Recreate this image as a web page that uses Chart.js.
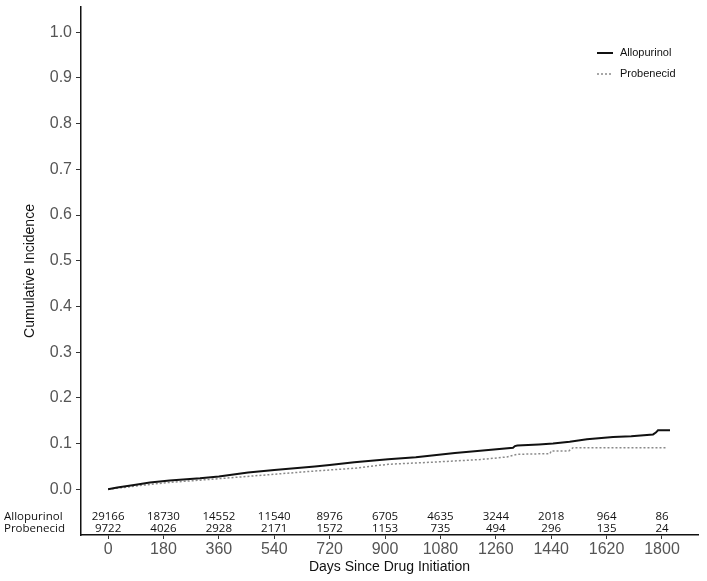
<!DOCTYPE html>
<html>
<head>
<meta charset="utf-8">
<script src="https://cdn.jsdelivr.net/npm/chart.js@4.4.1/dist/chart.umd.min.js"></script>
<style>
  html, body { margin: 0; padding: 0; background: #fff; }
  #wrap { width: 707px; height: 581px; }
</style>
</head>
<body>
<div id="wrap"><canvas id="chart" width="707" height="581"></canvas></div>
<script>
// cumulative incidence (days, value); repeated days mark visible jumps
const alloDays = [0, 30, 90, 136, 200, 299, 360, 455, 540, 672, 720, 800, 910, 1000, 1127, 1200, 1316, 1322, 1330, 1400, 1446, 1500, 1556, 1641, 1700, 1771, 1780, 1787, 1826];
const alloInc  = [0, 0.004, 0.010, 0.0147, 0.019, 0.024, 0.028, 0.0366, 0.042, 0.050, 0.053, 0.059, 0.0657, 0.070, 0.0795, 0.084, 0.091, 0.0945, 0.0957, 0.098, 0.100, 0.104, 0.1095, 0.1146, 0.116, 0.120, 0.124, 0.129, 0.129];

const probDays = [0, 100, 190, 299, 450, 672, 800, 910, 1046, 1208, 1296, 1329, 1436, 1440, 1497, 1511, 1816];
const probInc  = [0, 0.008, 0.0145, 0.020, 0.028, 0.040, 0.046, 0.0547, 0.059, 0.065, 0.0707, 0.0766, 0.078, 0.084, 0.084, 0.091, 0.091];

const xTicks = [0, 180, 360, 540, 720, 900, 1080, 1260, 1440, 1620, 1800];
const yTicks = [0, 0.1, 0.2, 0.3, 0.4, 0.5, 0.6, 0.7, 0.8, 0.9, 1.0];

// numbers at risk
const riskGroups = ['Allopurinol', 'Probenecid'];
const riskAllo = [29166, 18730, 14552, 11540, 8976, 6705, 4635, 3244, 2018, 964, 86];
const riskProb = [9722, 4026, 2928, 2171, 1572, 1153, 735, 494, 296, 135, 24];

const toPoints = (xs, ys) => xs.map((d, i) => ({ x: d, y: ys[i] }));

const extras = {
  id: 'extras',
  afterDraw(chart) {
    const { ctx, scales: { x, y } } = chart;
    ctx.save();
    // risk table
    ctx.fillStyle = '#111';
    ctx.font = '11.5px "Open Sans"';
    ctx.textBaseline = 'middle';
    const rowY = [y.getPixelForValue(-0.0607), y.getPixelForValue(-0.0865)];
    ctx.textAlign = 'left';
    riskGroups.forEach((g, r) => ctx.fillText(g, 4, rowY[r]));
    ctx.textAlign = 'center';
    xTicks.forEach((t, i) => {
      const px = x.getPixelForValue(t);
      ctx.fillText(String(riskAllo[i]), px, rowY[0]);
      ctx.fillText(String(riskProb[i]), px, rowY[1]);
    });
    // legend
    ctx.font = '11px "Liberation Sans"';
    ctx.textAlign = 'left';
    chart.data.datasets.forEach((ds, i) => {
      const ly = 53 + i * 21;
      ctx.beginPath();
      ctx.strokeStyle = ds.borderColor;
      ctx.lineWidth = ds.borderWidth;
      ctx.setLineDash(ds.borderDash || []);
      ctx.moveTo(597, ly);
      ctx.lineTo(613, ly);
      ctx.stroke();
      ctx.setLineDash([]);
      ctx.fillStyle = '#111';
      ctx.fillText(ds.label, 620, ly);
    });
    ctx.restore();
  }
};

new Chart(document.getElementById('chart'), {
  type: 'line',
  data: {
    datasets: [
      {
        label: 'Allopurinol',
        data: toPoints(alloDays, alloInc),
        borderColor: '#111',
        borderWidth: 2,
        pointRadius: 0,
        tension: 0,
        fill: false,
      },
      {
        label: 'Probenecid',
        data: toPoints(probDays, probInc),
        borderColor: '#8a8a8a',
        borderWidth: 1.5,
        borderDash: [2, 2],
        pointRadius: 0,
        tension: 0,
        fill: false,
      },
    ],
  },
  options: {
    responsive: false,
    animation: false,
    devicePixelRatio: 1,
    layout: { padding: { top: 7, right: 9, left: 0, bottom: 0 } },
    plugins: { legend: { display: false }, tooltip: { enabled: false } },
    scales: {
      x: {
        type: 'linear',
        min: -88,
        max: 1917,
        afterBuildTicks: (axis) => { axis.ticks = xTicks.map((v) => ({ value: v })); },
        afterFit: (scale) => { scale.height = 46; scale.paddingLeft = 0; scale.paddingRight = 0; },
        grid: { drawOnChartArea: false, drawTicks: true, tickLength: 4, color: '#333' },
        border: { display: true, color: '#111', width: 1.5 },
        ticks: {
          color: '#555',
          font: { family: 'Liberation Sans', size: 16 },
          padding: 1,
          maxRotation: 0,
          callback: (v) => String(v),
        },
        title: {
          display: true,
          text: 'Days Since Drug Initiation',
          color: '#111',
          font: { family: 'Liberation Sans', size: 14 },
          padding: { top: 0, bottom: 5 },
        },
      },
      y: {
        type: 'linear',
        min: -0.1,
        max: 1.055,
        afterBuildTicks: (axis) => { axis.ticks = yTicks.map((v) => ({ value: v })); },
        afterFit: (scale) => { scale.width = 81; scale.paddingTop = 0; scale.paddingBottom = 0; },
        grid: { drawOnChartArea: false, drawTicks: true, tickLength: 5, color: '#333' },
        border: { display: true, color: '#111', width: 1.5 },
        ticks: {
          color: '#555',
          font: { family: 'Liberation Sans', size: 16 },
          padding: 4,
          callback: (v) => Number(v).toFixed(1),
        },
        title: {
          display: true,
          text: 'Cumulative Incidence',
          color: '#111',
          font: { family: 'Liberation Sans', size: 14 },
          padding: { top: 22, bottom: 0 },
        },
      },
    },
  },
  plugins: [extras],
});
</script>
</body>
</html>
